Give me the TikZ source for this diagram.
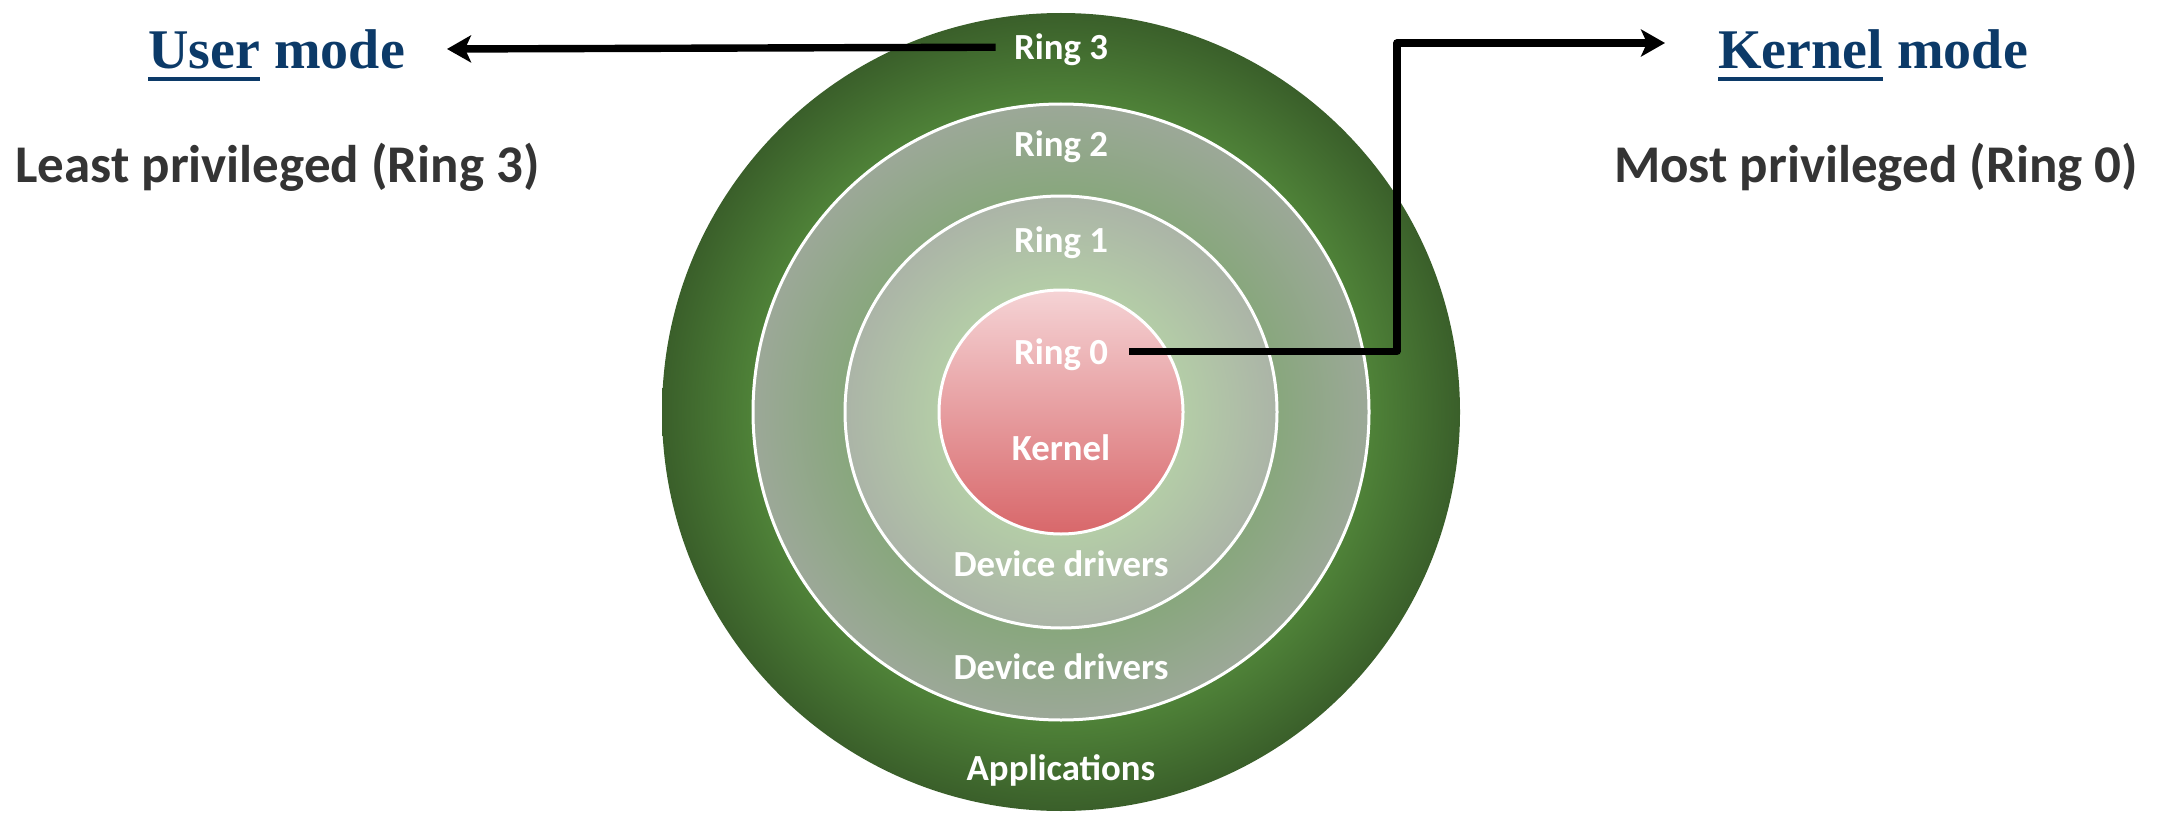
\documentclass[tikz,border=0pt]{standalone}
\usepackage{fontspec}
\setmainfont{Carlito}
\newfontfamily\headfont{Liberation Serif}
\usetikzlibrary{arrows.meta}

% palette
\definecolor{navy}{RGB}{12,58,104}
\definecolor{sidegray}{RGB}{52,52,52}
\definecolor{appin}{RGB}{80,132,57}
\definecolor{appout}{RGB}{58,95,42}
\definecolor{drvAin}{RGB}{136,167,125}
\definecolor{drvAout}{RGB}{156,168,152}
\definecolor{drvBin}{RGB}{180,205,167}
\definecolor{drvBout}{RGB}{171,180,167}
\definecolor{kertop}{RGB}{245,211,213}
\definecolor{kermid}{RGB}{235,178,179}
\definecolor{kerbot}{RGB}{216,103,106}

% radial fills for the three outer rings (25bp = circle radius)
\pgfdeclareradialshading{appshade}{\pgfpoint{0bp}{0bp}}{%
  color(0bp)=(appin); color(19bp)=(appin); color(25bp)=(appout); color(50bp)=(appout)}
\pgfdeclareradialshading{drvAshade}{\pgfpoint{0bp}{0bp}}{%
  color(0bp)=(drvAin); color(17.5bp)=(drvAin); color(25bp)=(drvAout); color(50bp)=(drvAout)}
\pgfdeclareradialshading{drvBshade}{\pgfpoint{0bp}{0bp}}{%
  color(0bp)=(drvBin); color(14bp)=(drvBin); color(25bp)=(drvBout); color(50bp)=(drvBout)}

% underline a word with a thick rule in the current colour
\newcommand\ulword[1]{\setbox0\hbox{#1}\rlap{\rule[-6pt]{\wd0}{2pt}}\box0\relax}

\tikzset{
  lbl/.style={anchor=base, inner sep=0pt, text=white,
    font=\bfseries\fontsize{18.4}{20}\selectfont},
  sidetext/.style={anchor=base west, inner sep=0pt, text=sidegray,
    font=\bfseries\fontsize{26.5}{30}\selectfont},
  modetext/.style={anchor=base west, inner sep=0pt, text=navy,
    font=\headfont\bfseries\fontsize{28}{32}\selectfont},
  ringedge/.style={draw=white, line width=1.5pt},
  conn/.style={draw=black, line width=3.7pt, line join=round,
    -{Stealth[length=12pt, width=13.5pt, inset=3pt]}}
}

\begin{document}
\begin{tikzpicture}[x=0.5pt, y=-0.5pt]
\useasboundingbox (0,0) rectangle (2169,813);

% concentric protection rings
\path[shading=appshade] (1061,412) circle (399);
\path[shading=drvAshade, ringedge] (1061,412) circle (308);
\path[shading=drvBshade, ringedge] (1061,412) circle (216);
\path[top color=kertop, middle color=kermid, bottom color=kerbot, ringedge]
  (1061,412) circle (122);

% ring labels
\node[lbl] (ring3) at (1061,60)  {Ring 3};
\node[lbl] (ring2) at (1061,156) {Ring 2};
\node[lbl] (ring1) at (1061,252) {Ring 1};
\node[lbl] (ring0) at (1061,364) {Ring 0};
\node[lbl] (kern)  at (1061,460) {Kernel};
\node[lbl] (drv1)  at (1061,576) {Device drivers};
\node[lbl] (drv2)  at (1061,679) {Device drivers};
\node[lbl] (apps)  at (1061,780) {Applications};

% mode captions
\node[modetext] (umode) at (148,69)  {\ulword{User} mode};
\node[modetext] (kmode) at (1718,69) {\ulword{Kernel} mode};
\node[sidetext] (least) at (15,183)   {Least privileged (Ring 3)};
\node[sidetext, anchor=base] (most) at (1876,183) {Most privileged (Ring 0)};

% connectors
\coordinate (utip)  at (447,49);
\coordinate (kbend) at (1397,43);
\coordinate (ktip)  at (1665,43);
\draw[conn] ([shift={(-18,-3)}]ring3.west) -- (utip);
\draw[conn] ([shift={(21,-3)}]ring0.east) -| (kbend) -- (ktip);
\end{tikzpicture}
\end{document}
